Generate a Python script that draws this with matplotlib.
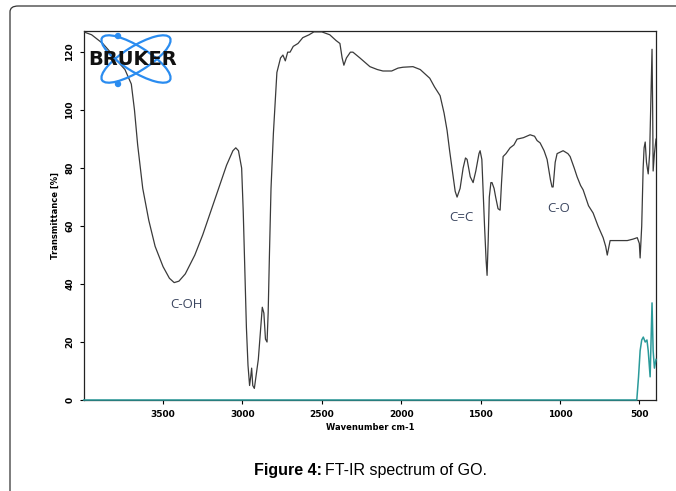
import numpy as np
import matplotlib
matplotlib.use("Agg")
import matplotlib.pyplot as plt
import matplotlib.patches as patches
from matplotlib.transforms import IdentityTransform

# GO spectrum (wavenumber cm-1, transmittance %)
wavenumber = [4000, 3950, 3880, 3800, 3773, 3740, 3700, 3680, 3660, 3628, 3590, 3550,
              3500, 3460, 3430, 3400, 3360, 3300, 3250, 3200, 3150, 3100, 3060, 3042,
              3025, 3005, 2995, 2985, 2975, 2965, 2955, 2948, 2942, 2935, 2925, 2915,
              2900, 2885, 2875, 2865, 2855, 2845, 2838, 2830, 2820, 2805, 2783, 2760,
              2745, 2730, 2715, 2700, 2680, 2650, 2620, 2580, 2550, 2500, 2450, 2410,
              2386, 2372, 2361, 2345, 2320, 2304, 2260, 2197, 2150, 2115, 2060, 2020,
              1989, 1926, 1880, 1850, 1820, 1790, 1755, 1730, 1711, 1695, 1680, 1660,
              1648, 1629, 1610, 1595, 1585, 1565, 1547, 1530, 1510, 1503, 1492, 1484,
              1475, 1465, 1459, 1452, 1445, 1435, 1428, 1415, 1405, 1390, 1377, 1368,
              1358, 1340, 1314, 1290, 1270, 1230, 1188, 1160, 1144, 1125, 1100, 1081,
              1060, 1050, 1043, 1030, 1018, 980, 950, 936, 910, 892, 870, 854,
              820, 791, 760, 728, 712, 702, 695, 684, 650, 576, 540, 513,
              500, 495, 485, 476, 470, 463, 455, 444, 435, 425, 420, 416,
              413, 405, 395]
transmittance = [127, 126, 123, 118, 116, 114, 109, 100, 88, 73, 62, 53,
                 46, 42, 40.5, 41, 43.5, 50, 57, 65, 73, 81, 86, 87,
                 86, 80, 65, 45, 25, 12, 5, 8, 11, 5, 4, 8,
                 14, 25, 32, 30, 21, 20, 30, 50, 73, 92, 113, 118,
                 119, 117, 120, 120, 122, 123, 125, 126, 127, 127, 126, 124,
                 123, 118, 115.5, 118, 120, 120, 118, 115, 114, 113.5, 113.5, 114.5,
                 114.8, 115, 114, 112.5, 111, 108, 105, 99, 93, 86, 80, 72,
                 70, 73, 80, 83.5, 83, 77, 75, 79, 85, 86, 83, 72,
                 60, 48, 43, 55, 70, 75, 75, 73, 70, 66, 65.5, 75,
                 84, 85, 87, 88, 90, 90.5, 91.5, 91, 89.5, 88.7, 86, 83,
                 76, 73.5, 73.5, 82, 85, 86, 85, 84, 80, 77, 74, 72.5,
                 67, 64.5, 60, 56, 53, 50, 52, 55, 55, 55, 55.5, 56,
                 54, 49, 60, 80, 87, 89, 82, 78, 85, 110, 121, 100,
                 79, 85, 90]

# second trace (teal), flat at zero until the far-IR end
wavenumber2 = [4000, 516, 505, 495, 485, 475, 463, 452, 444, 432, 420, 413, 405, 395]
transmittance2 = [0, 0, 8, 17, 20.7, 21.7, 20, 20.7, 17, 8, 33.5, 17, 11, 14]

yticks = [0, 20, 40, 60, 80, 100, 120]
xticks = [3500, 3000, 2500, 2000, 1500, 1000, 500]

labels = ["C-OH", "C=C", "C-O"]
label_pos = [(3350, 33), (1620, 63), (1010, 66)]

fig = plt.figure(figsize=(6.76, 4.91), dpi=100)
ax = fig.add_axes([84 / 676, 1 - 400 / 491, (656 - 84) / 676, (400 - 31) / 491])

ax.plot(wavenumber2, transmittance2, color="#2a9a9a", linewidth=1.1, zorder=4,
        clip_on=False)
ax.plot(wavenumber, transmittance, color="#3a3a3a", linewidth=0.9, zorder=3)

ax.set_xlim(3998, 395)
ax.set_ylim(0, 127.3)
ax.set_xticks(xticks)
ax.set_yticks(yticks)
ax.set_xticklabels([str(t) for t in xticks], fontsize=6.5, fontweight="bold")
ax.set_yticklabels([str(t) for t in yticks], fontsize=6.5, fontweight="bold",
                   rotation=90, va="center")
ax.tick_params(direction="out", length=3, width=0.8, pad=4)
ax.set_xlabel("Wavenumber cm-1", fontsize=6, fontweight="bold", labelpad=3)
ax.set_ylabel("Transmittance [%]", fontsize=6, fontweight="bold", labelpad=4)
for s in ax.spines.values():
    s.set_linewidth(0.9)
    s.set_color("#222222")

for lab, (x, y) in zip(labels, label_pos):
    ax.text(x, y, lab, fontsize=9.5, color="#3b4660", ha="center", va="center",
            family="Open Sans")

# Bruker logo drawn in pixel coords
H = 491
for ang in (32, -32):
    e = patches.Ellipse((136, H - 59), 80, 25, angle=ang, fill=False,
                        edgecolor="#2a8cf0", linewidth=1.6,
                        transform=IdentityTransform(), zorder=5)
    fig.patches.append(e)
for py in (36, 84):
    fig.patches.append(patches.Circle((118, H - py), 2.5, color="#2a8cf0",
                                      transform=IdentityTransform(), zorder=6))
fig.text(133 / 676, 1 - 60 / 491, "BRUKER", fontsize=14, fontweight="bold",
         ha="center", va="center", color="#111111", zorder=7)

# outer rounded frame
frame = patches.FancyBboxPatch((10 / 676, -0.05), 1.0, 1 - 6 / 491 + 0.05,
                               boxstyle="round,pad=0,rounding_size=0.012",
                               transform=fig.transFigure, fill=False,
                               edgecolor="#333333", linewidth=0.9, clip_on=False)
fig.patches.append(frame)

fig.text(322 / 676, 1 - 470 / 491, "Figure 4:", fontsize=11.5, fontweight="bold",
         ha="right", va="center", family="Liberation Sans")
fig.text(325 / 676, 1 - 470 / 491, "FT-IR spectrum of GO.", fontsize=11.5,
         ha="left", va="center", family="Liberation Sans")

fig.savefig("out.png", dpi=100)
